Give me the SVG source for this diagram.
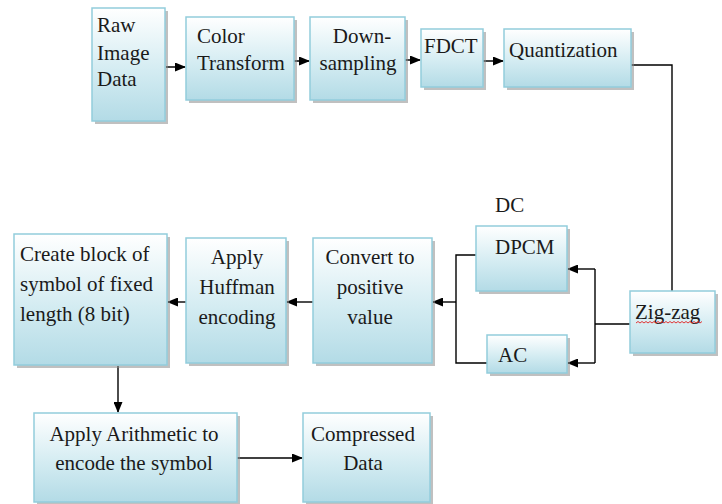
<svg xmlns="http://www.w3.org/2000/svg" width="722" height="504" viewBox="0 0 722 504">
<defs>
<linearGradient id="g" x1="0" y1="0" x2="0" y2="1">
<stop offset="0" stop-color="#ffffff"/>
<stop offset="0.55" stop-color="#d4ecf2"/>
<stop offset="1" stop-color="#b3dbe6"/>
</linearGradient>
<marker id="ah" markerUnits="userSpaceOnUse" markerWidth="11" markerHeight="9" refX="10" refY="4.5" orient="auto">
<path d="M0,0 L11,4.5 L0,9 z" fill="#000"/>
</marker>
</defs>
<style>
.sh{fill:#8c8c8c;opacity:0.55}
.bx{fill:url(#g);stroke:#92cddc;stroke-width:1.5}
text{font-family:"Liberation Serif","Times New Roman",serif;font-size:21px;fill:#1a1a1a}
.c{text-anchor:middle}
.ln{fill:none;stroke:#000;stroke-width:1.4}
.lg{fill:none;stroke:#444;stroke-width:2}
</style>
<rect width="722" height="504" fill="#fff"/>
<g id="connectors">
<path class="lg" d="M166,67 H185" marker-end="url(#ah)"/>
<path class="lg" d="M294,61 H309" marker-end="url(#ah)"/>
<path class="lg" d="M405,60 H420" marker-end="url(#ah)"/>
<path class="lg" d="M483,61 H503" marker-end="url(#ah)"/>
<path class="ln" d="M631,65 H672 V291"/>
<path class="ln" d="M630,324 H595"/>
<path class="ln" d="M595,269 V363"/>
<path class="ln" d="M595,269 H568" marker-end="url(#ah)"/>
<path class="ln" d="M595,363 H568" marker-end="url(#ah)"/>
<path class="ln" d="M476,255 H456 V363 H487"/>
<path class="ln" d="M456,302 H433" marker-end="url(#ah)"/>
<path class="ln" d="M313,302 H287" marker-end="url(#ah)"/>
<path class="ln" d="M186,302 H168" marker-end="url(#ah)"/>
<path class="ln" d="M118,366 V412" marker-end="url(#ah)"/>
<path class="ln" d="M237,458 H302" marker-end="url(#ah)"/>
</g>
<g id="raw"><rect class="sh" x="95" y="11" width="73" height="113"/><rect class="bx" x="92" y="8" width="73" height="113"/>
<text x="97" y="32">Raw</text><text x="97" y="60">Image</text><text x="97" y="86">Data</text></g>
<g id="color"><rect class="sh" x="189" y="20" width="108" height="83"/><rect class="bx" x="186" y="17" width="108" height="83"/>
<text x="197" y="43">Color</text><text x="197" y="70">Transform</text></g>
<g id="down"><rect class="sh" x="313" y="20" width="95" height="83"/><rect class="bx" x="310" y="17" width="95" height="83"/>
<text class="c" x="362" y="43">Down-</text><text class="c" x="358" y="70">sampling</text></g>
<g id="fdct"><rect class="sh" x="424" y="32" width="62" height="58"/><rect class="bx" x="421" y="29" width="62" height="58"/>
<text x="424" y="53">FDCT</text></g>
<g id="quant"><rect class="sh" x="507" y="32" width="127" height="58"/><rect class="bx" x="504" y="29" width="127" height="58"/>
<text x="509" y="57">Quantization</text></g>
<text id="dc" x="495" y="212">DC</text>
<g id="dpcm"><rect class="sh" x="479" y="229" width="91" height="65"/><rect class="bx" x="476" y="226" width="91" height="65"/>
<text x="495" y="254">DPCM</text></g>
<g id="ac"><rect class="sh" x="490" y="338" width="80" height="38"/><rect class="bx" x="487" y="335" width="80" height="38"/>
<text x="498" y="362">AC</text></g>
<g id="zigzag"><rect class="sh" x="633" y="294" width="85" height="62"/><rect class="bx" x="630" y="291" width="85" height="62"/>
<text x="635" y="319">Zig-zag</text>
<path d="M636,323 l2,-1.5 l2,1.5 l2,-1.5 l2,1.5 l2,-1.5 l2,1.5 l2,-1.5 l2,1.5 l2,-1.5 l2,1.5 l2,-1.5 l2,1.5 l2,-1.5 l2,1.5 l2,-1.5 l2,1.5 l2,-1.5 l2,1.5 l2,-1.5 l2,1.5 l2,-1.5 l2,1.5 l2,-1.5 l2,1.5 l2,-1.5 l2,1.5 l2,-1.5 l2,1.5 l2,-1.5 l2,1.5 l2,-1.5 l2,1.5 l2,-1.5" fill="none" stroke="#e02020" stroke-width="0.9"/></g>
<g id="convert"><rect class="sh" x="316" y="241" width="119" height="125"/><rect class="bx" x="313" y="238" width="119" height="125"/>
<text class="c" x="370" y="264">Convert to</text><text class="c" x="370" y="294">positive</text><text class="c" x="370" y="324">value</text></g>
<g id="huffman"><rect class="sh" x="189" y="241" width="100" height="125"/><rect class="bx" x="186" y="238" width="100" height="125"/>
<text class="c" x="237" y="264">Apply</text><text class="c" x="237" y="294">Huffman</text><text class="c" x="237" y="324">encoding</text></g>
<g id="create"><rect class="sh" x="17" y="237" width="153" height="131"/><rect class="bx" x="14" y="234" width="153" height="131"/>
<text x="20" y="261">Create block of</text><text x="20" y="291">symbol of fixed</text><text x="20" y="321">length (8 bit)</text></g>
<g id="arith"><rect class="sh" x="37" y="416" width="203" height="89"/><rect class="bx" x="34" y="413" width="203" height="89"/>
<text class="c" x="134" y="441">Apply Arithmetic to</text><text class="c" x="134" y="470">encode the symbol</text></g>
<g id="compressed"><rect class="sh" x="306" y="416" width="127" height="89"/><rect class="bx" x="303" y="413" width="127" height="89"/>
<text class="c" x="363" y="441">Compressed</text><text class="c" x="363" y="470">Data</text></g>
</svg>
